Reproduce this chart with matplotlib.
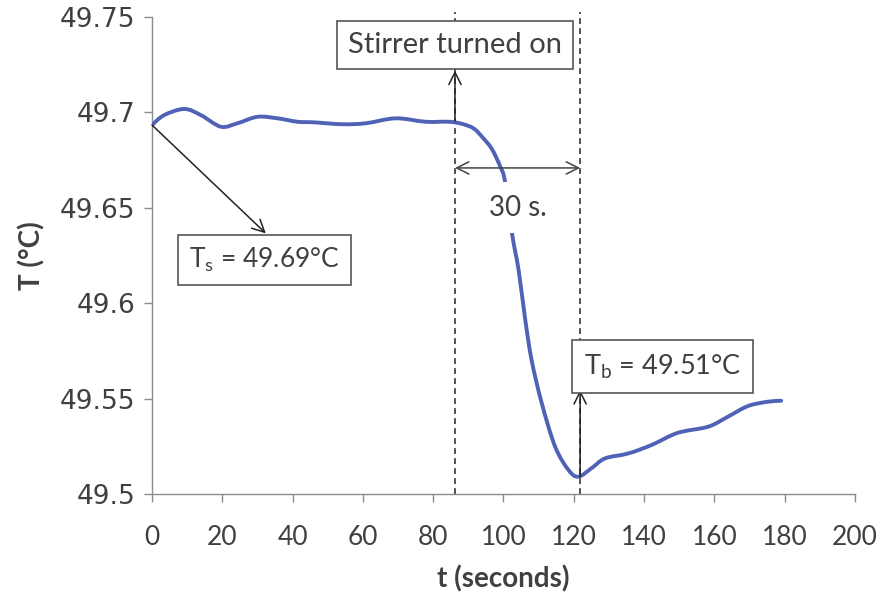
import matplotlib
matplotlib.use("Agg")
import matplotlib.pyplot as plt
from matplotlib.path import Path
from matplotlib.patches import PathPatch

# ---- data ----
t_sec = [0, 3.5, 9.2, 13.9, 19.6, 24.3, 30, 35.7, 41.4, 46.1, 54.1, 60.8, 69.3,
         77.8, 84.4, 88.2, 91.5, 94.0, 96.7, 99.1, 100.4, 102.5, 104.3, 106.2,
         108, 110.9, 114.7, 118.5, 121.3, 125, 128.9, 135.5, 142.1, 149.6,
         158.2, 163.8, 169.5, 175.2, 179]
temp_c = [49.6934, 49.6986, 49.7018, 49.6986, 49.6925, 49.6943, 49.6977,
          49.6969, 49.6951, 49.6948, 49.6938, 49.6943, 49.6969, 49.6951,
          49.6951, 49.6940, 49.6916, 49.6870, 49.6808, 49.6715, 49.6640,
          49.6357, 49.6174, 49.5912, 49.5702, 49.5475, 49.5248, 49.5126,
          49.5091, 49.5135, 49.5187, 49.5213, 49.5257, 49.5321, 49.5353,
          49.5405, 49.5461, 49.5484, 49.5489]
x_ticks = [0, 20, 40, 60, 80, 100, 120, 140, 160, 180, 200]
y_ticks = [49.5, 49.55, 49.6, 49.65, 49.7, 49.75]
y_tick_labels = ["49.5", "49.55", "49.6", "49.65", "49.7", "49.75"]

t_stir = 86.2          # stirrer turned on
t_min = 121.8          # minimum temperature time
T_s = 49.6934
T_b = 49.5091

text_col = "#404040"
axis_col = "#8c8c8c"
line_col = "#4F62B6"
ann_font = ["Lato", "DejaVu Sans"]

fig = plt.figure(figsize=(8.81, 5.96), dpi=100)
ax = fig.add_axes([0.1725, 0.171, 0.798, 0.8005])
ax.set_xlim(0, 200)
ax.set_ylim(49.5, 49.75)


def smooth_path(xs, ys, tension=1.0 / 6.0):
    """Smoothed line through the points (like a spreadsheet 'smoothed line'):
    cubic Bezier segments with Catmull-Rom tangents, drawn by matplotlib."""
    n = len(xs)
    verts = [(xs[0], ys[0])]
    codes = [Path.MOVETO]
    for i in range(n - 1):
        x0, y0 = (xs[i - 1], ys[i - 1]) if i > 0 else (xs[i], ys[i])
        x1, y1 = xs[i], ys[i]
        x2, y2 = xs[i + 1], ys[i + 1]
        x3, y3 = (xs[i + 2], ys[i + 2]) if i + 2 < n else (x2, y2)
        c1 = (x1 + (x2 - x0) * tension, y1 + (y2 - y0) * tension)
        c2 = (x2 - (x3 - x1) * tension, y2 - (y3 - y1) * tension)
        verts += [c1, c2, (x2, y2)]
        codes += [Path.CURVE4] * 3
    return Path(verts, codes)


ax.add_patch(PathPatch(smooth_path(t_sec, temp_c), fc="none", ec=line_col,
                       lw=2.8, capstyle="round", joinstyle="round", zorder=3))

ax.set_xticks(x_ticks)
ax.set_xticklabels([str(v) for v in x_ticks], fontsize=19, color=text_col,
                   family=ann_font)
ax.set_yticks(y_ticks)
ax.set_yticklabels(y_tick_labels, fontsize=19, color=text_col,
                   family=["DejaVu Sans"])
for s in ["top", "right"]:
    ax.spines[s].set_visible(False)
for s in ["left", "bottom"]:
    ax.spines[s].set_color(axis_col)
    ax.spines[s].set_linewidth(1.0)
ax.tick_params(axis="both", direction="out", length=6, width=1.0,
               color=axis_col)
ax.tick_params(axis="x", pad=16)
ax.tick_params(axis="y", pad=6)

ax.set_xlabel("t (seconds)", fontsize=20, fontweight="bold", color=text_col,
              family=ann_font, labelpad=11)
ax.set_ylabel("T (°C)", fontsize=20, fontweight="bold", color=text_col,
              family=ann_font, labelpad=10)

# dashed vertical guides
for tx in (t_stir, t_min):
    ax.plot([tx, tx], [49.5, 49.7525], color="#333333", lw=1.2,
            ls=(0, (3.5, 2.5)), clip_on=False, zorder=2)

# stirrer box + arrow
ax.text(t_stir, 49.7352, "Stirrer turned on", ha="center", va="center",
        fontsize=21, color=text_col, family=ann_font,
        bbox=dict(boxstyle="square,pad=0.38", fc="white", ec="#555555", lw=1.2),
        zorder=6)
ax.annotate("", xy=(t_stir, 49.7219), xytext=(t_stir, 49.6955),
            arrowprops=dict(arrowstyle="->", color="#222222", lw=1.1,
                            mutation_scale=22, shrinkA=0, shrinkB=0),
            zorder=5)

# 30 s double arrow
ax.annotate("", xy=(t_stir, 49.6709), xytext=(t_min, 49.6709),
            arrowprops=dict(arrowstyle="<->", color="#444444", lw=1.1,
                            mutation_scale=22, shrinkA=0, shrinkB=0),
            zorder=4)
ax.text(104.2, 49.650, "30 s.", ha="center", va="center", fontsize=20,
        color=text_col, family=ann_font,
        bbox=dict(boxstyle="square,pad=0.45", fc="white", ec="none"),
        zorder=5)

# T_s box + arrow
ax.annotate("", xy=(32.4, 49.6366), xytext=(0, T_s),
            arrowprops=dict(arrowstyle="->", color="#222222", lw=1.1,
                            mutation_scale=22, shrinkA=0, shrinkB=0),
            zorder=4)
ax.text(32.1, 49.6226, r"T$_\mathregular{s}$ = 49.69°C", ha="center",
        va="center", fontsize=19, color=text_col, family=ann_font,
        bbox=dict(boxstyle="square,pad=0.42", fc="white", ec="#555555", lw=1.2),
        zorder=6)

# T_b box + arrow
ax.annotate("", xy=(t_min, 49.5545), xytext=(t_min, T_b),
            arrowprops=dict(arrowstyle="->", color="#222222", lw=1.1,
                            mutation_scale=22, shrinkA=0, shrinkB=0),
            zorder=5)
ax.text(145.3, 49.5668, r"T$_\mathregular{b}$ = 49.51°C", ha="center",
        va="center", fontsize=19.5, color=text_col, family=ann_font,
        bbox=dict(boxstyle="square,pad=0.44", fc="white", ec="#555555", lw=1.2),
        zorder=6)

fig.savefig("out.png", dpi=100)
